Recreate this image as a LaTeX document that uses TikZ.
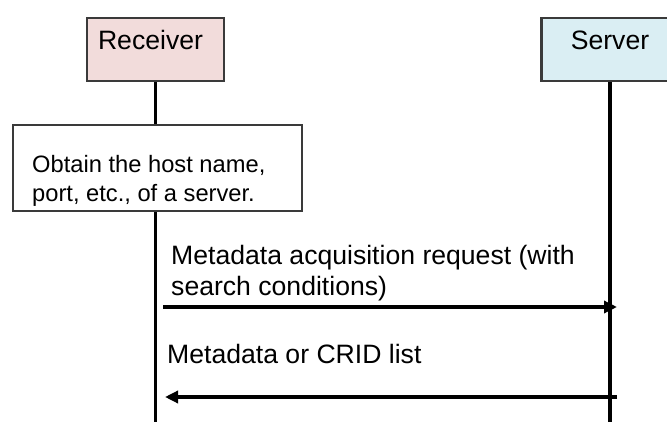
\documentclass[tikz,border=0pt]{standalone}
\usepackage{fontspec}
\setmainfont{Liberation Sans}
\usetikzlibrary{arrows.meta}
\definecolor{recvfill}{HTML}{F2DCDB}
\definecolor{servfill}{HTML}{DAEEF3}
\definecolor{edge}{HTML}{3A3A3A}
\tikzset{
  actor/.style={draw=edge, line width=2.2pt, minimum width=137pt, minimum height=63pt, inner sep=0pt},
  notebox/.style={draw=edge, line width=1.8pt, fill=white, minimum width=289pt, minimum height=86pt, inner sep=0pt},
  bigtext/.style={font=\fontsize{26.6}{30.5}\selectfont, inner sep=0pt, align=left},
  smalltext/.style={font=\fontsize{23.7}{28.7}\selectfont, inner sep=0pt, align=left},
  lifeline/.style={line width=3.5pt, black},
  msg/.style={line width=3.3pt, black, -{Triangle[length=13pt,width=12pt]}}
}
\begin{document}
\begin{tikzpicture}[x=1pt, y=-1pt]
  \useasboundingbox (0,0) rectangle (667,422);
  \clip (0,0) rectangle (667,422);
  \fill[white] (0,0) rectangle (667,422);

  % participants
  \node[actor, fill=recvfill] (recv) at (155.5,49.5) {};
  \node[actor, fill=servfill] (serv) at (610,49.5) {};
  \node[bigtext, anchor=base] (recvlabel) at (150.5,50) {Receiver};
  \node[bigtext, anchor=base] (servlabel) at (610,50) {Server};

  % lifelines
  \coordinate (recvend) at (155.5,422);
  \coordinate (servend) at (610,422);
  \draw[lifeline] (recv.south) -- (recvend);
  \draw[lifeline] (serv.south) -- (servend);

  % local step on the receiver side (base anchor = last line)
  \node[notebox] (note) at (157.5,168) {};
  \node[smalltext, anchor=base west] (notetext) at (32,201.7)
    {Obtain the host name,\\port, etc., of a server.};

  % request
  \coordinate (reqfrom) at (163,307);
  \coordinate (reqto) at (617,307);
  \node[bigtext, anchor=base west] (reqlabel) at (171,295)
    {Metadata acquisition request (with\\search conditions)};
  \draw[msg] (reqfrom) -- (reqto);

  % response
  \coordinate (respfrom) at (617,397);
  \coordinate (respto) at (165,397);
  \node[bigtext, anchor=base west] (resplabel) at (167,363) {Metadata or CRID list};
  \draw[msg] (respfrom) -- (respto);
\end{tikzpicture}
\end{document}
